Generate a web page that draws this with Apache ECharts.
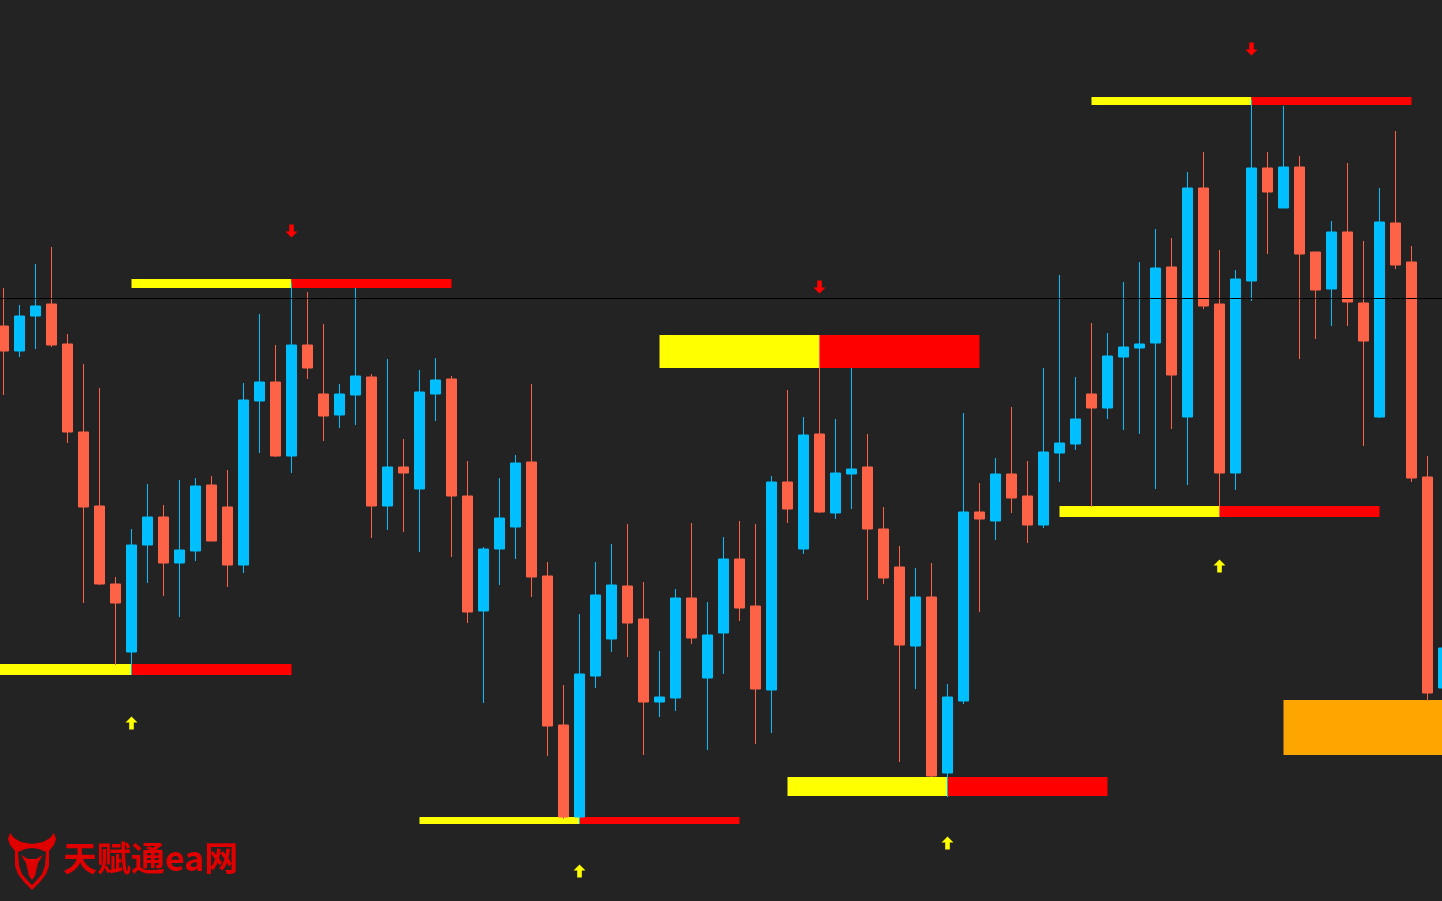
<!DOCTYPE html>
<html>
<head>
<meta charset="utf-8">
<style>
  html, body { margin: 0; padding: 0; background: #232323; overflow: hidden; }
  /* chart is wider than the window so the first and last bars can be cut at the edges */
  #chart { position: absolute; left: -40px; top: 0; width: 1500px; height: 901px; }
</style>
<script src="https://cdn.jsdelivr.net/npm/echarts@6/dist/echarts.min.js"></script>
</head>
<body>
<div id="chart"></div>
<script>
// Bar prices, left to right (91 bars)
const opens = [
  575, 550, 585, 597, 557, 469, 395, 317, 249, 356,
  384, 338, 350, 416, 394, 336, 500, 519, 445, 556,
  507, 486, 506, 524, 395, 434, 412, 507, 522, 405,
  290, 352, 374, 439, 325, 176, 84, 225, 262, 315,
  282, 199, 203, 303, 223, 268, 342, 295, 211, 419,
  352, 467, 388, 427, 434, 372, 334, 255, 304, 128,
  200, 389, 380, 427, 405, 376, 448, 457, 507, 493,
  544, 553, 558, 634, 484, 713, 597, 428, 620, 733,
  693, 734, 649, 612, 669, 598, 484, 678, 639, 424,
  213,
];
const closes = [
  550, 585, 595, 556, 469, 394, 317, 298, 356, 384,
  338, 351, 415, 360, 336, 501, 519, 445, 556, 533,
  485, 507, 525, 395, 434, 428, 509, 521, 405, 289,
  352, 383, 438, 324, 175, 84, 227, 306, 316, 278,
  199, 204, 303, 263, 266, 342, 293, 212, 419, 392,
  466, 389, 428, 432, 372, 323, 256, 304, 125, 204,
  389, 382, 427, 403, 376, 449, 458, 482, 493, 545,
  554, 557, 633, 526, 713, 595, 428, 622, 733, 709,
  734, 647, 611, 669, 599, 560, 679, 636, 423, 208,
  253,
];
const lows = [
  506, 544, 552, 554, 458, 298, 316, 236, 226, 318,
  305, 284, 340, 360, 314, 328, 448, 444, 428, 522,
  460, 473, 476, 363, 371, 369, 349, 480, 344, 278,
  198, 316, 342, 304, 145, 82, 77, 213, 249, 244,
  146, 184, 190, 257, 151, 227, 280, 157, 168, 378,
  347, 388, 382, 392, 301, 317, 139, 212, 124, 104,
  197, 289, 361, 388, 358, 373, 419, 451, 394, 482,
  471, 467, 412, 472, 416, 592, 384, 411, 600, 647,
  693, 542, 562, 575, 575, 455, 483, 632, 419, 200,
  209,
];
const highs = [
  613, 596, 637, 654, 567, 537, 513, 324, 372, 417,
  396, 421, 423, 425, 431, 518, 587, 556, 618, 609,
  577, 517, 613, 527, 542, 462, 531, 543, 525, 440,
  354, 423, 446, 517, 339, 216, 287, 339, 357, 377,
  319, 250, 312, 378, 299, 364, 380, 377, 425, 511,
  484, 566, 482, 533, 467, 394, 355, 333, 338, 217,
  488, 418, 443, 494, 440, 533, 626, 524, 578, 568,
  619, 639, 672, 663, 729, 749, 651, 631, 801, 749,
  795, 745, 649, 680, 738, 660, 713, 770, 655, 445,
  261,
];

// Swing levels: pivot bar, level band low / high
const levelPivots = [8, 18, 36, 51, 59, 76, 78];
const levelLows   = [226, 613, 77, 533, 105, 384, 796];
const levelHighs  = [237, 622, 84, 566, 124, 395, 804];

// Orange zone at the right edge
const boxStart = 80;
const boxLow = 146;
const boxHigh = 201;

// Arrow markers
const upArrowBars = [8, 36, 59, 76];
const upArrowPrices = [178, 30, 58, 335];
const downArrowBars = [18, 51, 78];
const downArrowPrices = [670, 614, 852];

// Current price line
const bidPrice = 603;

const LEAD = 2;        // empty slots before the first bar
const LEVEL_SPAN = 10; // bars drawn each side of a pivot
const SHIFT = 40;      // chart div starts this far left of the window

const categories = Array.from({ length: opens.length + LEAD }, (_, i) => String(i - LEAD));
const candleData = categories.map((_, i) =>
  i < LEAD ? ['-', '-', '-', '-'] : [opens[i - LEAD], closes[i - LEAD], lows[i - LEAD], highs[i - LEAD]]
);

const zoneColors = ['#ffff00', '#ff0000', '#ffa500'];
const zoneData = [];
levelPivots.forEach((p, i) => {
  const c = p + LEAD;
  zoneData.push([c - LEVEL_SPAN, c, levelLows[i], levelHighs[i], 0]);
  zoneData.push([c, c + LEVEL_SPAN, levelLows[i], levelHighs[i], 1]);
});
zoneData.push([boxStart + LEAD, categories.length - 1, boxLow, boxHigh, 2]);

const upArrow = 'path://M6,0 L12,6 L8.3,6 L8.3,13 L3.7,13 L3.7,6 L0,6 Z';
const downArrow = 'path://M6,13 L12,7 L8.3,7 L8.3,0 L3.7,0 L3.7,7 L0,7 Z';

// Logo outline (local coordinates)
const logoOuter = [[2,0],[0,6],[2,12],[7,18],[7,33],[10,41],[16,49],[24,57],[32,49],[38,41],[41,33],[41,18],[46,12],[48,6],[46,0],[42,5],[35,9],[24,11],[13,9],[6,5]];
const logoInner = [[10,19],[17,16],[24,15],[31,16],[38,19],[37,33],[34,41],[29,47],[24,52],[19,47],[14,41],[11,33]];
const logoHead = [[13,22],[20,26],[28,26],[35,22],[30,30],[27,43],[24,47],[21,43],[18,30]];

const chart = echarts.init(document.getElementById('chart'));

chart.setOption({
  backgroundColor: '#232323',
  animation: false,
  // 93 slots of 16px, first real bar centred at window x = 3.5
  grid: { left: 3.5, right: 8.5, top: 0, bottom: 0 },
  xAxis: {
    type: 'category',
    data: categories,
    boundaryGap: true,
    axisLine: { show: false },
    axisTick: { show: false },
    axisLabel: { show: false },
    splitLine: { show: false },
  },
  yAxis: {
    type: 'value',
    min: 0,
    max: 901,
    axisLine: { show: false },
    axisTick: { show: false },
    axisLabel: { show: false },
    splitLine: { show: false },
  },
  graphic: [
    { type: 'polygon', x: 8 + SHIFT, y: 833, shape: { points: logoOuter }, style: { fill: '#e00000' }, z: 10 },
    { type: 'polygon', x: 8 + SHIFT, y: 833, shape: { points: logoInner }, style: { fill: '#232323' }, z: 11 },
    { type: 'polygon', x: 8 + SHIFT, y: 833, shape: { points: logoHead }, style: { fill: '#e00000' }, z: 12 },
    {
      type: 'text',
      x: 63 + SHIFT,
      y: 858,
      z: 10,
      style: {
        text: '天赋通ea网',
        fill: '#e00000',
        fontSize: 34,
        fontWeight: 'bold',
        fontFamily: '"Noto Sans CJK SC", sans-serif',
        verticalAlign: 'middle',
      },
    },
  ],
  series: [
    {
      type: 'custom',
      z: 1,
      silent: true,
      encode: { x: [0, 1], y: [2, 3] },
      data: zoneData,
      renderItem: (params, api) => {
        const p0 = api.coord([api.value(0), api.value(3)]);
        const p1 = api.coord([api.value(1), api.value(2)]);
        return {
          type: 'rect',
          shape: { x: p0[0], y: p0[1], width: p1[0] - p0[0], height: p1[1] - p0[1] },
          style: { fill: zoneColors[api.value(4)] },
        };
      },
    },
    {
      type: 'candlestick',
      z: 2,
      data: candleData,
      barWidth: 10,
      itemStyle: {
        color: '#00bfff',
        color0: '#ff6347',
        borderColor: '#00bfff',
        borderColor0: '#ff6347',
        borderWidth: 1,
      },
      markLine: {
        silent: true,
        symbol: 'none',
        label: { show: false },
        lineStyle: { color: '#000000', width: 1, type: 'solid' },
        data: [{ yAxis: bidPrice }],
      },
    },
    {
      type: 'scatter',
      z: 3,
      silent: true,
      symbol: upArrow,
      symbolSize: [12, 13],
      itemStyle: { color: '#ffff00', opacity: 1 },
      data: upArrowBars.map((b, i) => [b + LEAD, upArrowPrices[i]]),
    },
    {
      type: 'scatter',
      z: 3,
      silent: true,
      symbol: downArrow,
      symbolSize: [12, 13],
      itemStyle: { color: '#ff0000', opacity: 1 },
      data: downArrowBars.map((b, i) => [b + LEAD, downArrowPrices[i]]),
    },
  ],
});

window.addEventListener('resize', () => chart.resize());
</script>
</body>
</html>
